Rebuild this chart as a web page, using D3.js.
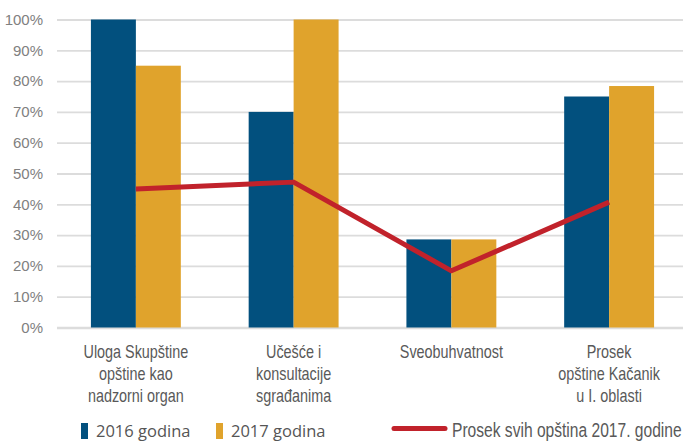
<!DOCTYPE html>
<html lang="en">
<head>
    <meta charset="UTF-8">
    <title>Chart</title>
    <script src="https://d3js.org/d3.v7.min.js"></script>
    <style>
        body { margin: 0; background: #ffffff; }
    </style>
</head>
<body>
    <svg width="683" height="441"></svg>

    <script>
        // data
        const categories = [
            ["Uloga Skupštine", "opštine kao", "nadzorni organ"],
            ["Učešće i", "konsultacije", "sgrađanima"],
            ["Sveobuhvatnost"],
            ["Prosek", "opštine Kačanik", "u I. oblasti"]
        ];
        const seriesNames = ["2016 godina", "2017 godina"];
        const values2016 = [100, 70, 28.6, 75];
        const values2017 = [85, 100, 28.6, 78.4];
        const averageName = "Prosek svih opština 2017. godine";
        const average2017 = [45, 47.2, 18.4, 40.7];
        const yTicks = [0, 10, 20, 30, 40, 50, 60, 70, 80, 90, 100];

        const colors = ["#02507e", "#e0a32c"];
        const lineColor = "#c1222b";

        const svg = d3.select("svg");
        const ids = categories.map((c, i) => i);

        const x = d3.scaleBand()
            .domain(ids)
            .range([57, 688])
            .paddingInner(0.43)
            .paddingOuter(0.215);
        const xs = d3.scaleBand()
            .domain([0, 1])
            .range([0, x.bandwidth()]);
        const y = d3.scaleLinear()
            .domain([0, 100])
            .range([327.5, 19.5]);

        // gridlines + y labels
        const yAxis = d3.axisLeft(y)
            .tickValues(yTicks)
            .tickSize(-(683 - 57))
            .tickFormat(d => d + "%");
        const yg = svg.append("g")
            .attr("transform", "translate(57,0)")
            .call(yAxis);
        yg.select(".domain").remove();
        yg.selectAll(".tick line")
            .attr("stroke", "#dcdcdc")
            .attr("stroke-width", d => d === 0 ? 2.5 : 1.8);
        yg.selectAll(".tick text")
            .attr("x", -14)
            .attr("fill", "#808080")
            .style("font-family", "'Liberation Sans', Arial, sans-serif")
            .style("font-size", "15px");

        // bars
        const series = [values2016, values2017];
        series.forEach((vals, s) => {
            svg.append("g").selectAll("rect")
                .data(vals)
                .join("rect")
                .attr("x", (d, i) => x(i) + xs(s))
                .attr("y", d => y(d))
                .attr("width", xs.bandwidth())
                .attr("height", d => y(0) - y(d))
                .attr("fill", colors[s]);
        });

        // average line
        svg.append("path")
            .datum(average2017)
            .attr("fill", "none")
            .attr("stroke", lineColor)
            .attr("stroke-width", 5)
            .attr("stroke-linejoin", "round")
            .attr("d", d3.line()
                .x((d, i) => x(i) + x.bandwidth() / 2)
                .y(d => y(d)));

        // category labels (condensed look via scaleX)
        const catG = svg.append("g");
        categories.forEach((lines, i) => {
            const t = catG.append("text")
                .attr("transform", `translate(${x(i) + x.bandwidth() / 2},358) scale(0.8,1)`)
                .attr("text-anchor", "middle")
                .attr("fill", "#595959")
                .style("font-family", "'Liberation Sans', Arial, sans-serif")
                .style("font-size", "18px");
            lines.forEach((l, j) => {
                t.append("tspan")
                    .attr("x", 0)
                    .attr("y", j * 22)
                    .text(l);
            });
        });

        // legend
        const legendX = [81, 216];
        seriesNames.forEach((name, s) => {
            svg.append("rect")
                .attr("x", legendX[s])
                .attr("y", 423)
                .attr("width", 7)
                .attr("height", 16)
                .attr("fill", colors[s]);
            svg.append("text")
                .attr("x", legendX[s] + 15)
                .attr("y", 437)
                .attr("fill", "#555555")
                .style("font-family", "'Open Sans', sans-serif")
                .style("font-size", "16.5px")
                .text(name);
        });
        svg.append("line")
            .attr("x1", 394)
            .attr("x2", 445)
            .attr("y1", 428.5)
            .attr("y2", 428.5)
            .attr("stroke", lineColor)
            .attr("stroke-width", 5)
            .attr("stroke-linecap", "round");
        svg.append("text")
            .attr("transform", "translate(452,437) scale(0.8,1)")
            .attr("fill", "#595959")
            .style("font-family", "'Liberation Sans', Arial, sans-serif")
            .style("font-size", "19.5px")
            .text(averageName);
    </script>
</body>
</html>
